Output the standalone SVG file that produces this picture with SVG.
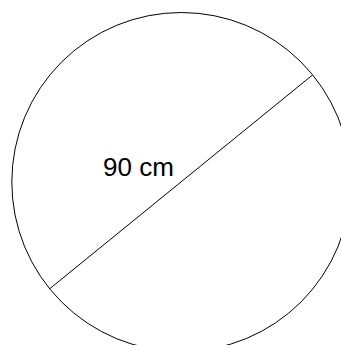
<svg xmlns="http://www.w3.org/2000/svg" width="341" height="345" viewBox="0 0 341 345">
<style>
.s{fill:none;stroke:#000;stroke-width:1}
.t{font-family:"Liberation Sans",Arial,sans-serif;font-size:26px;fill:#000}
</style>
<rect width="341" height="345" fill="#fff"/>
<g id="circle"><circle class="s" cx="181.3" cy="182" r="169.5"/></g>
<g id="connectors"><line class="s" x1="50" y1="288.5" x2="312.5" y2="75"/></g>
<g id="label"><text class="t" x="103" y="176">90 cm</text></g>
</svg>
